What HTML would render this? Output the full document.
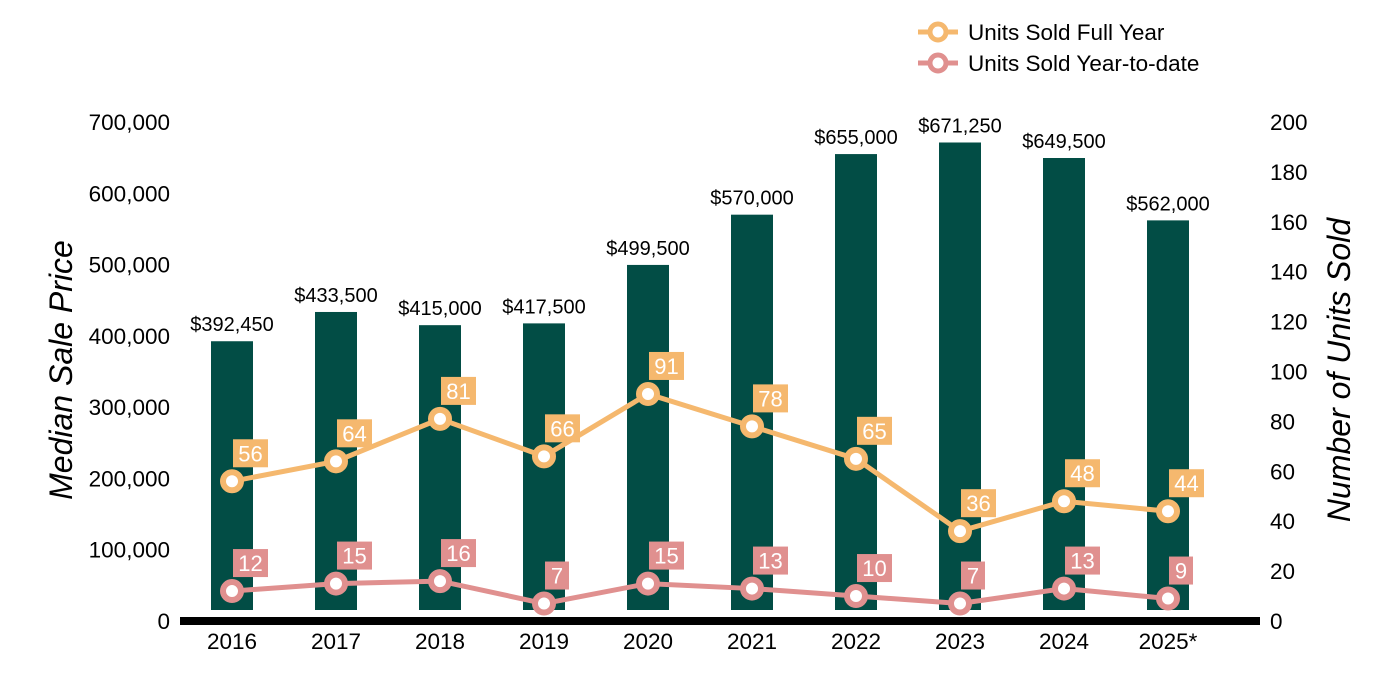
<!DOCTYPE html>
<html><head><meta charset="utf-8"><style>
body{margin:0;background:#fff}
svg{display:block;font-family:"Liberation Sans",Arial,sans-serif}
</style></head><body>
<svg id="chart" width="1400" height="700">
<g id="g"></g>
</svg>
<script>
const years=["2016","2017","2018","2019","2020","2021","2022","2023","2024","2025*"];
const prices=[392450,433500,415000,417500,499500,570000,655000,671250,649500,562000];
const fullYear=[56,64,81,66,91,78,65,36,48,44];
const ytd=[12,15,16,7,15,13,10,7,13,9];
const leftTicks=[0,100000,200000,300000,400000,500000,600000,700000];
const rightTicks=[0,20,40,60,80,100,120,140,160,180,200];
const NS="http://www.w3.org/2000/svg";
const g=document.getElementById('g');
function mk(t,a,txt){const e=document.createElementNS(NS,t);for(const k in a)e.setAttribute(k,a[k]);if(txt!==undefined)e.textContent=txt;g.appendChild(e);return e;}
const y0=621,yTop=122;
const yL=v=>y0-(v/700000)*(y0-yTop);
const yR=v=>y0-(v/200)*(y0-yTop);
const xC=i=>232+i*104;
const fmt=n=>n.toLocaleString('en-US');
leftTicks.forEach(t=>{const e=mk('text',{x:170,y:yL(t)+8,'text-anchor':'end','font-size':22.5,fill:'#000'},fmt(t));

});
rightTicks.forEach(t=>{const e=mk('text',{x:1270,y:yR(t)+8,'font-size':22.5,fill:'#000'},t);

});
let e=mk('text',{x:0,y:0,transform:'translate(72,370) rotate(-90)','text-anchor':'middle','font-size':32,'font-style':'italic'},'Median Sale Price');


e=mk('text',{x:0,y:0,transform:'translate(1350,370) rotate(-90)','text-anchor':'middle','font-size':32,'font-style':'italic'},'Number of Units Sold');


prices.forEach((p,i)=>{
 const b=mk('rect',{x:xC(i)-21,y:yL(p),width:42,height:610-yL(p),fill:'#024d45'});
 
 
 const l=mk('text',{x:xC(i),y:yL(p)-10,'text-anchor':'middle','font-size':20,fill:'#000'},'$'+fmt(p));
 
 
 const x=mk('text',{x:xC(i),y:649,'text-anchor':'middle','font-size':22.5,fill:'#000'},years[i]);
 
 
});
e=mk('rect',{x:180,y:617,width:1080,height:8,fill:'#000'});


function series(vals,col,name){
 const pl=mk('polyline',{points:vals.map((v,i)=>xC(i)+','+yR(v)).join(' '),fill:'none',stroke:col,'stroke-width':5});
 
 
 vals.forEach((v,i)=>{
  const c=mk('circle',{cx:xC(i),cy:yR(v),r:9,fill:'#fff',stroke:col,'stroke-width':6});
  
  
  const w=String(v).length>1?35:24;
  const r=mk('rect',{x:xC(i)+1,y:yR(v)-42,width:w,height:28,fill:col});
  
  
  const t=mk('text',{x:xC(i)+1+w/2,y:yR(v)-20,'text-anchor':'middle','font-size':22,fill:'#fff'},v);
  
  
 });
}
series(fullYear,'#f5b86e','full-year');
series(ytd,'#e0908f','ytd');
[['#f5b86e','Units Sold Full Year',32],['#e0908f','Units Sold Year-to-date',63]].forEach(([c,t,y])=>{
 const l=mk('line',{x1:918,x2:958,y1:y,y2:y,stroke:c,'stroke-width':5});
 
 
 const ci=mk('circle',{cx:938,cy:y,r:8,fill:'#fff',stroke:c,'stroke-width':5});
 
 
 const tx=mk('text',{x:968,y:y+8,'font-size':22.5,fill:'#000'},t);
 
 
});
</script>
</body></html>
